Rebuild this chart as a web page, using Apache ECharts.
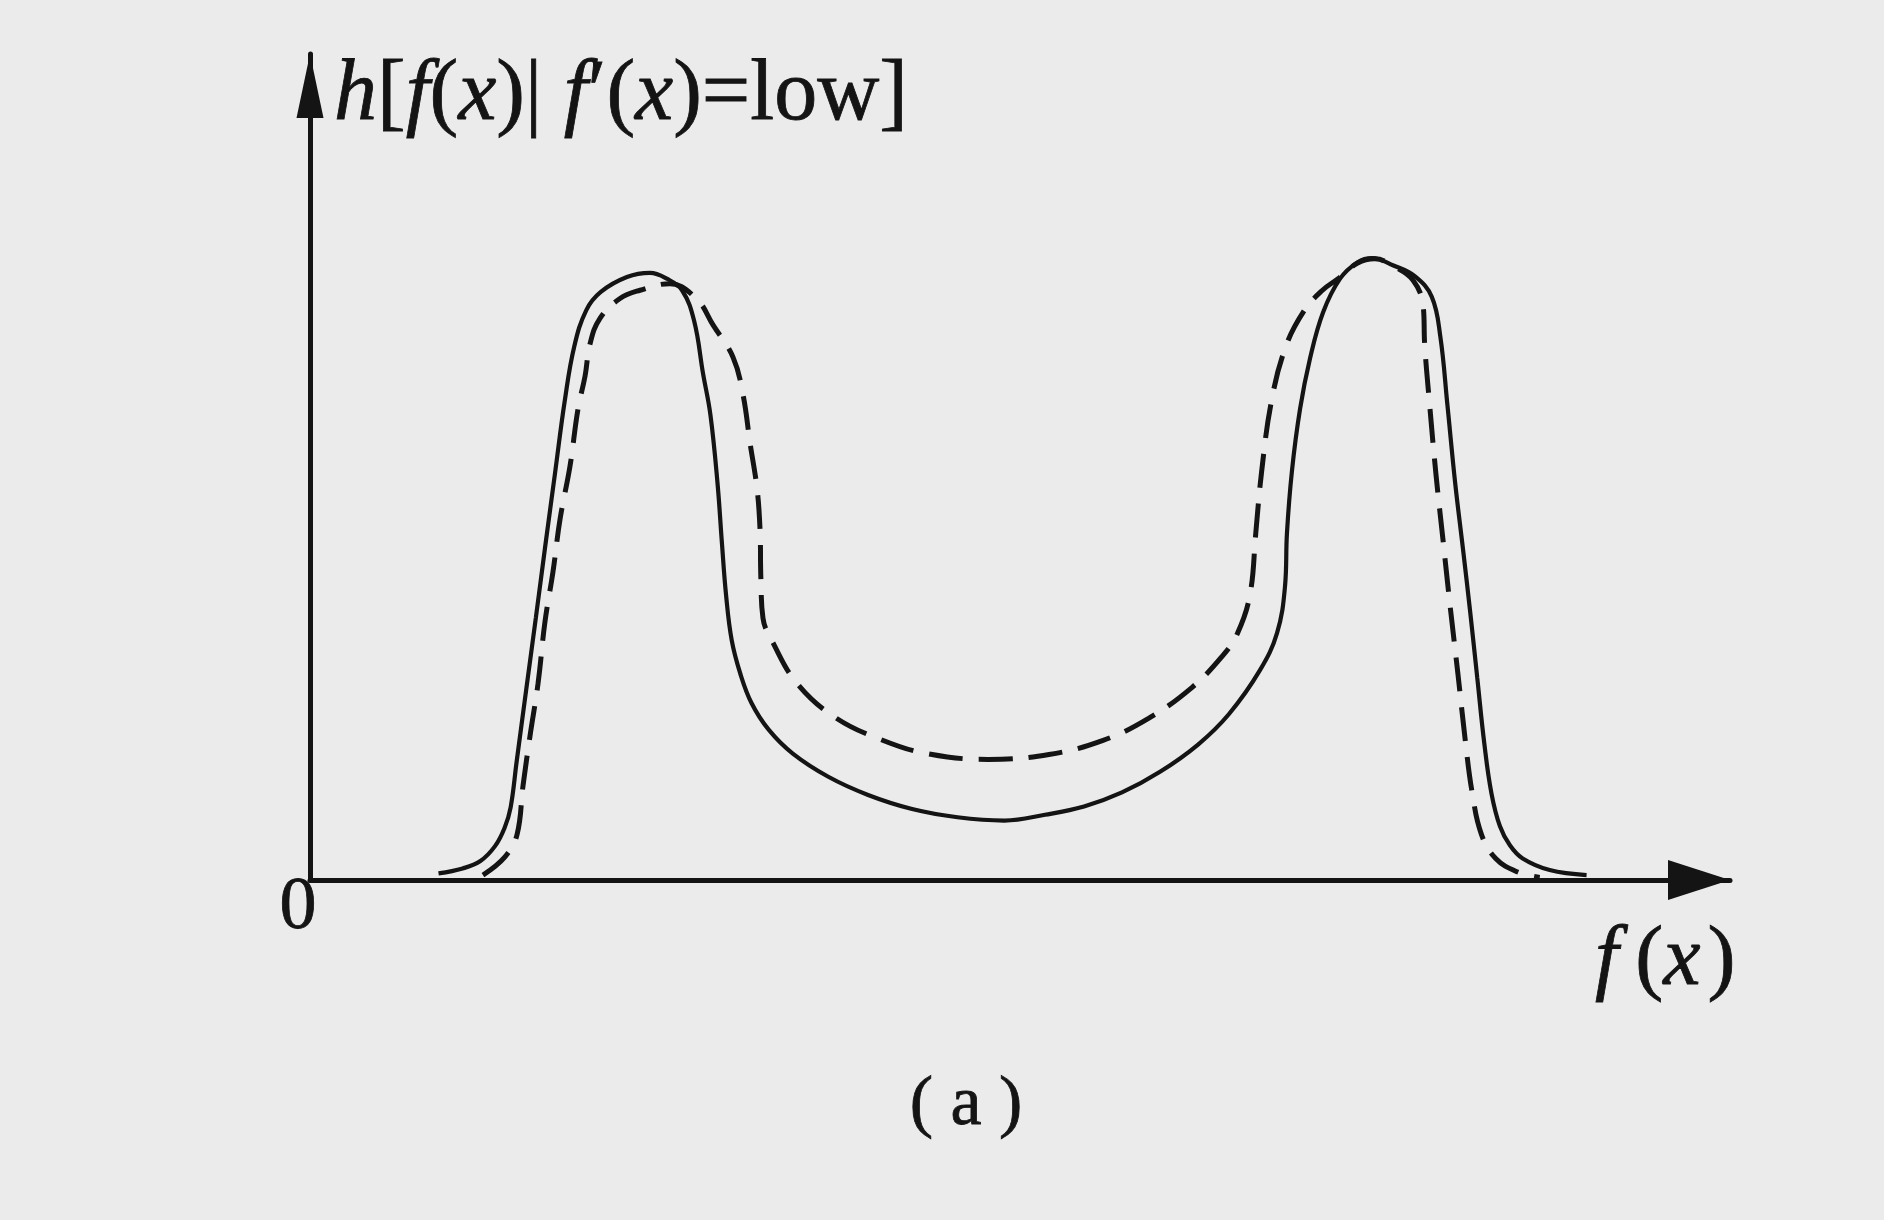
<!DOCTYPE html>
<html>
<head>
<meta charset="utf-8">
<script src="https://cdn.jsdelivr.net/npm/echarts@6/dist/echarts.min.js"></script>
<style>
html,body{margin:0;padding:0;background:#ebebeb;}
#chart{width:1884px;height:1220px;}
</style>
</head>
<body>
<div id="chart"></div>
<script>
// Solid curve
const solidX = [9.05,10.75,12.0,13.03,13.7,14.13,14.55,15.23,15.91,16.58,17.26,17.94,18.61,19.46,20.48,22.32,23.94,25.13,26.2,27.05,27.68,28.2,28.7,29.0,29.3,29.7,30.3,31.1,32.3,34.0,36.5,39.3,42.4,45.6,48.9,51.76,54.51,57.18,59.86,62.54,64.72,66.90,68.10,68.66,68.80,69.15,69.72,70.42,71.34,72.54,73.78,74.79,76.3,77.8,79.0,79.6,80.1,80.65,81.2,81.7,82.2,82.7,83.2,83.8,84.5,85.4,87.3,89.9];
const solidY = [0.8,1.4,2.3,4.1,6.3,8.8,14.3,23.1,31.8,40.6,49.3,58.0,64.6,69.0,71.2,73.0,73.5,72.8,71.4,67.7,61.3,56.3,48.0,41.0,34.5,29.0,25.0,21.4,18.2,15.3,12.5,10.3,8.6,7.6,7.2,7.9,8.9,10.6,13.1,16.4,20.1,25.4,29.9,35.5,42.0,49.5,57.0,63.1,68.7,72.8,74.8,75.3,74.4,73.1,70.6,65.8,57.5,48.0,40.0,32.5,24.5,16.5,10.5,6.5,4.2,2.6,1.2,0.6];
// Dashed curve
const dashedX = [12.18,13.73,14.58,15.00,15.49,16.06,16.55,17.11,17.61,18.31,18.87,19.37,19.72,20.42,21.83,23.24,25.35,27.25,28.38,29.79,30.49,30.99,31.48,31.69,31.75,31.90,32.61,34.30,36.97,40.21,43.45,47.75,52.04,55.85,59.08,62.1,64.2,65.3,66.2,66.6,67.0,67.7,68.7,70.0,71.3,72.4,73.78,74.99,76.3,77.68,78.4,78.5,78.85,79.3,79.8,80.3,80.85,81.35,81.85,82.5,83.5,85.0,86.6];
const dashedY = [0.6,2.8,5.5,11.4,17.4,23.8,31.3,37.3,43.7,50.1,57.0,61.0,64.9,68.0,70.4,71.4,72.2,70.3,67.2,63.3,58.8,52.9,47.4,42.5,36.6,31.7,28.7,23.8,19.7,17.0,15.3,14.6,15.2,16.9,19.6,23.3,27.0,29.8,34.6,41.9,49.2,57.9,64.5,68.9,71.4,72.8,74.7,75.2,74.3,72.6,69.4,64.8,57.5,49.0,41.0,33.0,24.8,17.0,10.5,5.5,2.6,1.0,0.3];

const originLabel = '0';
const xAxisTitle = '{i|f}{r|\u2009(}{i|x}{r|\u200a)}';
const yAxisTitle = '{i|h}{r|[}{i|f}{r|(}{i|x}{r|)| }{i|f}{r|\u2032(}{i|x}{r|)=low]}';
const caption = '( a )';

const zip = (xs, ys) => xs.map((x, i) => [x, ys[i]]);
const ink = '#141414';
const serif = '"Liberation Serif", "DejaVu Serif", serif';
const richStyle = (size) => ({
  i: {fontStyle: 'italic', fontSize: size, fontFamily: serif, fill: ink, stroke: ink, lineWidth: 0.8},
  r: {fontSize: size, fontFamily: serif, fill: ink, stroke: ink, lineWidth: 0.8}
});

const chart = echarts.init(document.getElementById('chart'), null, {renderer: 'canvas'});
const axisCommon = {
  type: 'value', min: 0, max: 100,
  axisTick: {show: false}, axisLabel: {show: false}, splitLine: {show: false}
};
chart.setOption({
  backgroundColor: '#ebebeb',
  animation: false,
  grid: {left: 310, right: 154, top: 54, bottom: 340},
  xAxis: Object.assign({}, axisCommon, {
    axisLine: {show: true, symbol: ['none', 'triangle'], symbolSize: [40, 62], symbolOffset: [0, -31],
      lineStyle: {color: ink, width: 5}}
  }),
  yAxis: Object.assign({}, axisCommon, {
    axisLine: {show: true, symbol: ['none', 'triangle'], symbolSize: [27, 64], symbolOffset: [0, -32],
      lineStyle: {color: ink, width: 5}}
  }),
  series: [
    {type: 'line', data: zip(dashedX, dashedY), smooth: 0.4, showSymbol: false, silent: true,
      lineStyle: {color: ink, width: 5, type: [34, 16]}},
    {type: 'line', data: zip(solidX, solidY), smooth: 0.4, showSymbol: false, silent: true,
      lineStyle: {color: ink, width: 4.2, type: 'solid'}}
  ],
  graphic: [
    {type: 'text', x: 334, y: 96, silent: true, style: {
      text: yAxisTitle, align: 'left', verticalAlign: 'middle', fontSize: 86, fontFamily: serif, fill: ink,
      rich: richStyle(86)}},
    {type: 'text', x: 298, y: 909, silent: true, style: {
      text: originLabel, align: 'center', verticalAlign: 'middle', fontSize: 74, fontFamily: serif, fill: ink,
      stroke: ink, lineWidth: 0.8}},
    {type: 'text', x: 1595, y: 962, silent: true, style: {
      text: xAxisTitle, align: 'left', verticalAlign: 'middle', fontSize: 84, fontFamily: serif, fill: ink,
      rich: richStyle(84)}},
    {type: 'text', x: 966, y: 1106, silent: true, style: {
      text: caption, align: 'center', verticalAlign: 'middle', fontSize: 70, fontFamily: serif, fill: ink,
      stroke: ink, lineWidth: 0.8}}
  ]
});
</script>
</body>
</html>
